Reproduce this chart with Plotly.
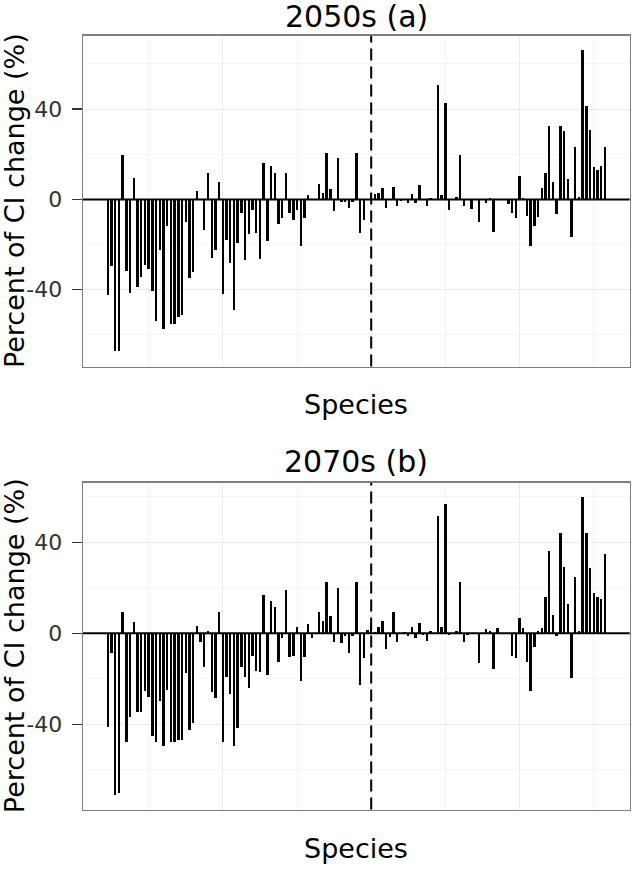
import numpy as np
import plotly.graph_objects as go

# ---------------- data ----------------
# species position (centred on the dashed separator at 0)
species = list(range(-71, 64))

ci_2050s = [-42.5, -29.5, -67, -67, 19.7, -31.9, -41.5, 9.6, -39, -34.5, -29.2, -30.7, -40.6, -54, -22.5,
            -57.3, -11.9, -55, -55, -52, -51.4, -9.9, -34.7, -32, 3.9, 0, -13.6, 11.9, -25.8, -22.5, 7.6,
            -42, -17.8,
            -28, -49.2, -19.1, -5.9, -26.7, -15.1, -4.7, -14.7, -26.2, 16, -18.4, 14.8, 11.6, -11, -8.3,
            11.9, -6.2, -9.2, -4.7, -20.7, -8.4, 2.1, 0, 0, 6.8, 2.7, 20.4, 4.6, -5.3, 18.2, -1, -1, -4,
            -1, 20.7, -15,
            -8.9, 0, 2.7, 2.2, 3, 5.2, -4, 0, 5.3, -3, -0.5, 0, -1.5, 2.5, -1.5, 6.5, 0, -2.7, 0.6, 0,
            50.7, 2.1, 42.7, -4.7, 0, 1.2, 19.7, -2.7, 0, -4.1, 0, -9.9, 0, -1.5, 0.7,
            -14.4, 0, 0, 0, -2, -6.2, -8.3, 10.4, 0.7, -7.3, -20.7, -11.9, -7.7, 4.9, 11.6, 32.6, 7.7,
            -6.5, 32.6, 30.1, 8.9, -16.6, 23.4, 0.9, 66, 41.2, 30.8, 14.5, 13, 14.8, 23.1]

ci_2070s = [-41, -8.8, -71, -70, 9.2, -47.6, -37, 5.1, -34.4, -34.4, -25.3, -27.8, -45.1, -47.6, -29.6,
            -49.5, -24.9, -47.6, -47.6, -46.9, -47.1, -17.6, -42.5, -39.5, 3.4, -3.7, -14.6, 1.2, -25.6,
            -28.6, 9.2, -47.9, -19,
            -26.8, -49.5, -41.7, -14.9, -19.3, -24.2, -10, -16.5, -16.8, 16.8, -18.3, 14.3, 11.4, -12.4,
            -2.2, 19, -10.2, -10, 2.9, -20.8, -10.5, 4.1, -1.9, 0, 9.2, 5.4, 22.7, 7.8, -4, 19.8, -4.4,
            -1.2, -8.8, -1, 22.7, -22.7,
            -10.7, 1.5, 4.4, 0.7, 2.6, 5.4, -7, -1.5, 9.2, -3.7, 0, 0.5, -1, 2.8, -1.9, 4.7, -0.7, -3.4,
            1.2, 0, 51.5, 2.9, 56.7, -0.7, 0, 1.2, 22.7, -4, -0.7, 0, 0, -13.2, 0, 1.8, 1,
            -15.7, 2.5, 0, 0, 0, -10, -11, 6.6, 2.2, -12.4, -25.3, -6.1, 1, 2.5, 16.1, 36.3, 8.1, -1,
            44.2, 29.1, 12.9, -19.5, 24.7, 1.2, 59.7, 44.2, 28.8, 17.9, 16.1, 14.9, 34.8]

panel_titles = ["2050s (a)", "2070s (b)"]
y_title = "Percent of CI change (%)"
x_title = "Species"
y_tick_vals = [-40, 0, 40]
y_tick_labels = ["-40", "0", "40"]
y_minor_vals = [-60, -20, 20, 60]
x_major_vals = [-40, 0, 40]
x_minor_vals = [-60, -20, 20, 60]
separator_x = 0

# ---------------- layout helpers ----------------
W, H = 633, 869
FONT = "DejaVu Sans"


def px(x):
    return x / W


def py(y):
    return 1 - y / H


x_dom = [px(83), px(629.7)]
panels = [
    dict(vals=ci_2050s, top=35.7, bottom=366.5, yrange=[-74.0, 72.5], title_y=17, xt_y=404),
    dict(vals=ci_2070s, top=482.7, bottom=809.6, yrange=[-77.5, 66.2], title_y=462, xt_y=848),
]

fig = go.Figure()
annotations = []
shapes = []
for i, p in enumerate(panels):
    sfx = "" if i == 0 else str(i + 1)
    xa, ya = "x" + sfx, "y" + sfx
    fig.add_trace(go.Bar(x=species, y=p["vals"], xaxis=xa, yaxis=ya, width=0.65,
                         marker=dict(color="black", line=dict(width=0)), showlegend=False))
    grid = "#ebebeb"
    fig.layout["xaxis" + sfx] = dict(
        domain=x_dom, anchor=ya, range=[-77.7, 69.7], showticklabels=False, ticks="",
        automargin=False,
        tickvals=x_major_vals, showgrid=True, gridcolor=grid, gridwidth=1, zeroline=False,
        minor=dict(tickvals=x_minor_vals, showgrid=True, gridcolor="#f3f3f3", gridwidth=0.8, ticks=""),
        showline=True, mirror=True, linecolor="#7f7f7f", linewidth=1.3)
    fig.layout["yaxis" + sfx] = dict(
        domain=[py(p["bottom"]), py(p["top"])], anchor=xa, range=p["yrange"],
        automargin=False,
        tickvals=y_tick_vals, ticktext=y_tick_labels, ticks="outside", ticklen=10, tickwidth=1.5,
        tickcolor="#333333", ticklabelstandoff=5,
        tickfont=dict(family=FONT, size=22, color="#333333"),
        showgrid=True, gridcolor=grid, gridwidth=1, zeroline=False,
        minor=dict(tickvals=y_minor_vals, showgrid=True, gridcolor="#f3f3f3", gridwidth=0.8, ticks=""),
        showline=True, mirror=True, linecolor="#7f7f7f", linewidth=1.3)
    # zero line
    shapes.append(dict(type="line", xref=xa + " domain", x0=0, x1=1, yref=ya, y0=0, y1=0,
                       line=dict(color="black", width=2), layer="above"))
    # dashed separator
    shapes.append(dict(type="line", xref=xa, x0=separator_x, x1=separator_x, yref=ya + " domain",
                       y0=0, y1=1, line=dict(color="black", width=2, dash="12px,6px"), layer="above"))
    cx = (83 + 629.7) / 2
    annotations.append(dict(text=panel_titles[i], xref="paper", yref="paper", x=px(cx), y=py(p["title_y"]),
                            xanchor="center", yanchor="middle", showarrow=False,
                            font=dict(family=FONT, size=30, color="black")))
    annotations.append(dict(text=x_title, xref="paper", yref="paper", x=px(cx), y=py(p["xt_y"]),
                            xanchor="center", yanchor="middle", showarrow=False,
                            font=dict(family=FONT, size=27, color="black")))
    annotations.append(dict(text=y_title, xref="paper", yref="paper", x=px(14),
                            y=py((p["top"] + p["bottom"]) / 2), textangle=-90,
                            xanchor="center", yanchor="middle", showarrow=False,
                            font=dict(family=FONT, size=27, color="black")))

fig.update_layout(template="none", width=W, height=H, margin=dict(l=0, r=0, t=0, b=0, autoexpand=False),
                  paper_bgcolor="white", plot_bgcolor="white",
                  annotations=annotations, shapes=shapes, bargap=0)
fig.write_html("out.html", config={"staticPlot": True, "displayModeBar": False},
               post_script="document.body.style.margin='0';document.body.style.overflow='hidden';")
